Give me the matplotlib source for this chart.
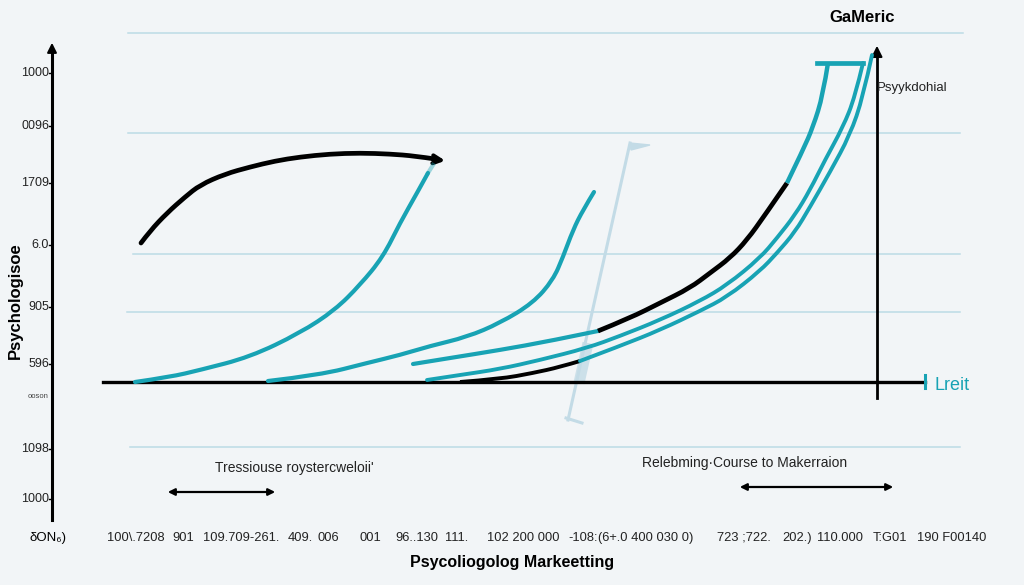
import matplotlib
matplotlib.use('Agg')
import matplotlib.pyplot as plt
from matplotlib import font_manager
from matplotlib.path import Path
from matplotlib.patches import PathPatch

# colours
BG = '#f2f5f7'
TEAL = '#18a3b4'
GRID = '#bcdbe5'
PALE = '#c3dbe6'

names = {f.name for f in font_manager.fontManager.ttflist}
SANS = 'Liberation Sans' if 'Liberation Sans' in names else 'DejaVu Sans'
NARROW = 'Liberation Sans Narrow' if 'Liberation Sans Narrow' in names else SANS

# ---- data (canvas units, y grows downwards) ----
grid_y = [33, 133, 254, 312, 447]
grid_x0 = [128, 128, 133, 127, 130]
grid_x1 = [963, 960, 960, 960, 960]

ytick_pos = [73, 126, 183, 245, 307, 364, 449, 499]
ytick_labels = ['1000', '0096', '1709', '6.0', '905', '596', '1098', '1000']

xtick_left = [107, 172, 203, 288, 317, 360, 395, 445, 487, 568, 598, 717, 782, 817, 873, 917]
xtick_labels = ['100\\.7208', '901', '109.709-261.', '409.', '006', '001', '96..130',
                '111.', '102 200 000', '-108:', '(6+.0 400 030 0)', '723 ;722.',
                '202.)', '110.000', 'T:G01', '190 F00140']

# black arc
arc_x = [141, 150, 167, 185, 200, 225, 250, 275, 300, 330, 360, 390, 415, 435]
arc_y = [243, 231, 213, 197, 185, 174, 167, 161, 157, 154, 153, 154, 156, 159]

# teal curve A (steep, left)
a_x = [135, 170, 200, 250, 300, 335, 360, 383, 400, 417, 428]
a_y = [382, 377, 370, 357, 333, 310, 285, 257, 223, 193, 173]

# teal curve B (middle)
b_x = [268, 320, 367, 400, 430, 467, 500, 533, 553, 563, 573, 583, 594]
b_y = [381, 375, 363, 355, 346, 337, 323, 303, 280, 257, 230, 210, 192]

# curve C: teal -> black -> teal, with top cap
c1_x = [413, 450, 500, 550, 598]
c1_y = [364, 358, 350, 341, 331]
c2_x = [598, 630, 660, 690, 710, 730, 747, 765, 787]
c2_y = [331, 318, 303, 288, 273, 258, 240, 215, 183]
c3_x = [787, 803, 813, 823, 828]
c3_y = [183, 150, 127, 95, 63]
cap_x = [817, 863]
cap_y = [63, 63]

# curve D (teal)
d_x = [427, 460, 500, 540, 587, 620, 660, 700, 727, 760, 777, 795, 810, 825, 843, 855, 863]
d_y = [380, 375, 369, 360, 348, 336, 320, 301, 285, 258, 238, 215, 190, 160, 127, 97, 63]

# curve E: black start, then teal
e1_x = [460, 500, 533, 560, 580]
e1_y = [382, 379, 373, 367, 361]
e2_x = [580, 620, 660, 700, 727, 760, 777, 795, 810, 830, 850, 863, 872]
e2_y = [361, 346, 330, 311, 297, 271, 253, 232, 207, 172, 135, 97, 55]

# pale marker line
pale_x = [568, 630]
pale_y = [420, 143]
band_x = [579, 588]
band_y = [383, 343]


def smooth(ax, xs, ys, **kw):
    # quadratic bezier through midpoints, points act as control points
    pts = list(zip(xs, ys))
    verts = [pts[0]]
    codes = [Path.MOVETO]
    if len(pts) > 2:
        for i in range(1, len(pts) - 1):
            mid = ((pts[i][0] + pts[i + 1][0]) / 2, (pts[i][1] + pts[i + 1][1]) / 2)
            if i == len(pts) - 2:
                mid = pts[-1]
            verts += [pts[i], mid]
            codes += [Path.CURVE3, Path.CURVE3]
    else:
        verts.append(pts[1])
        codes.append(Path.LINETO)
    kw.setdefault('capstyle', 'round')
    ax.add_patch(PathPatch(Path(verts, codes), fill=False, **kw))


fig = plt.figure(figsize=(10.24, 5.85), dpi=100, facecolor=BG)
ax = fig.add_axes([0, 0, 1, 1])
ax.set_facecolor(BG)
ax.set_xlim(0, 1024)
ax.set_ylim(585, 0)
ax.axis('off')

# grid lines
for y, x0, x1 in zip(grid_y, grid_x0, grid_x1):
    ax.plot([x0, x1], [y, y], color=GRID, lw=1.1, zorder=1)

# left axis with arrow
ax.plot([52, 52], [520, 50], color='black', lw=2.2, zorder=3)
ax.annotate('', xy=(52, 40), xytext=(52, 55),
            arrowprops=dict(arrowstyle='-|>', color='black', lw=1.5, mutation_scale=14))
for y, lab in zip(ytick_pos, ytick_labels):
    ax.plot([49, 52], [y, y], color='black', lw=1)
    ax.text(49, y, lab, ha='right', va='center', fontsize=9, family=NARROW, color='#222222')
ax.text(49, 397, 'ooson', ha='right', va='center', fontsize=5.5, family=SANS, color='#444444')
ax.text(15, 301, 'Psychologisoe', rotation=90, ha='center', va='center',
        fontsize=12, fontweight='bold', family=SANS)

# right axis with arrow
ax.plot([877, 877], [398, 55], color='black', lw=2.0, zorder=3)
ax.annotate('', xy=(877, 43), xytext=(877, 60),
            arrowprops=dict(arrowstyle='-|>', color='black', lw=1.5, mutation_scale=16))

# baseline
ax.plot([103, 925], [382, 382], color='black', lw=2.4, zorder=4)
ax.plot([925, 925], [375, 388], color=TEAL, lw=2.2, zorder=4)

# pale marker
ax.plot(pale_x, pale_y, color=PALE, lw=2.2, zorder=2)
ax.plot(band_x, band_y, color=PALE, lw=8, alpha=0.8, zorder=2, solid_capstyle='butt')
ax.fill([630, 650, 631], [143, 145, 150], color=PALE, zorder=2)
ax.plot([566, 582], [418, 423], color=PALE, lw=2.2, zorder=2)

# curves
smooth(ax, arc_x, arc_y, edgecolor='black', lw=3.4, zorder=5)
ax.annotate('', xy=(448, 161), xytext=(430, 159),
            arrowprops=dict(arrowstyle='->', color='black', lw=3, mutation_scale=14), zorder=5)
smooth(ax, a_x, a_y, edgecolor=TEAL, lw=3, zorder=5)
ax.plot([428, 433], [173, 165], color=TEAL, lw=3, alpha=0.4, zorder=5)
smooth(ax, b_x, b_y, edgecolor=TEAL, lw=3, zorder=5)
smooth(ax, d_x, d_y, edgecolor=TEAL, lw=2.8, zorder=5)
smooth(ax, e1_x, e1_y, edgecolor='black', lw=2.8, zorder=5, capstyle='butt')
smooth(ax, e2_x, e2_y, edgecolor=TEAL, lw=2.8, zorder=5)
smooth(ax, c1_x, c1_y, edgecolor=TEAL, lw=3, zorder=6)
smooth(ax, c2_x, c2_y, edgecolor='black', lw=3.4, zorder=6, capstyle='butt')
smooth(ax, c3_x, c3_y, edgecolor=TEAL, lw=3.2, zorder=6, capstyle='butt')
ax.plot(cap_x, cap_y, color=TEAL, lw=3.4, zorder=6)

# double arrows
ax.annotate('', xy=(165, 492), xytext=(278, 492),
            arrowprops=dict(arrowstyle='<|-|>', color='black', lw=1.6, mutation_scale=10))
ax.annotate('', xy=(737, 487), xytext=(896, 487),
            arrowprops=dict(arrowstyle='<|-|>', color='black', lw=1.6, mutation_scale=10))

# texts
ax.text(215, 468, "Tressiouse roystercweloii'", ha='left', va='center', fontsize=10,
        family=SANS, color='#222222')
ax.text(642, 463, 'Relebming\u00b7Course to Makerraion', ha='left', va='center',
        fontsize=10, family=SANS, color='#222222')
ax.text(862, 17, 'GaMeric', ha='center', va='center', fontsize=12,
        fontweight='bold', family=SANS)
ax.text(877, 88, 'Psyykdohial', ha='left', va='center', fontsize=9.5, family=SANS,
        color='#222222')
ax.text(935, 385, 'Lreit', ha='left', va='center', fontsize=13, family=SANS, color=TEAL)

for x, lab in zip(xtick_left, xtick_labels):
    ax.text(x, 541, lab, ha='left', va='baseline', fontsize=9.3, family=NARROW, color='#222222')
ax.text(48, 541, '\u03b4ON\u2086)', ha='center', va='baseline', fontsize=9.5, family=SANS)
ax.text(512, 563, 'Psycoliogolog Markeetting', ha='center', va='center', fontsize=11.5,
        fontweight='bold', family=SANS)

fig.savefig('out.png', dpi=100, facecolor=BG)
